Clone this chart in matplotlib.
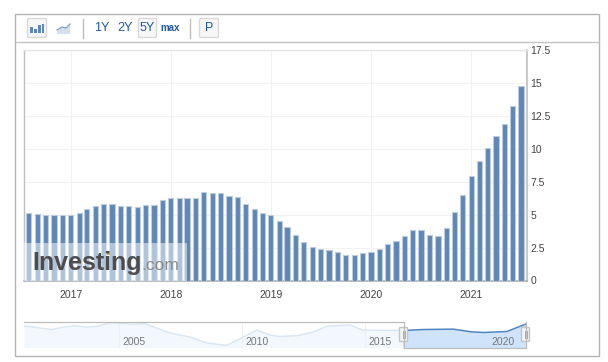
import matplotlib
matplotlib.use('Agg')
import matplotlib.pyplot as plt
from matplotlib.patches import Rectangle, FancyBboxPatch, Polygon
import pandas as pd

plt.rcParams['font.family'] = ['Liberation Sans', 'DejaVu Sans']

# monthly values, Aug 2016 to Jul 2021
bar_dates = pd.date_range('2016-08-01', periods=60, freq='MS')
bar_values = [5.14, 5.03, 4.96, 5.0, 4.95, 5.0, 5.14, 5.42, 5.64, 5.82, 5.82, 5.64,
              5.64, 5.56, 5.77, 5.77, 6.1, 6.23, 6.3, 6.23, 6.3, 6.71, 6.66, 6.66,
              6.45, 6.33, 5.82, 5.42, 5.14, 4.96, 4.53, 4.05, 3.44, 2.95, 2.55, 2.4,
              2.32, 2.15, 1.92, 1.92, 2.07, 2.15, 2.4, 2.75, 3.03, 3.4, 3.8, 3.8,
              3.47, 3.4, 4.0, 5.17, 6.47, 7.91, 9.08, 10.09, 11.0, 11.9, 13.24, 14.76]
y_ticks = [0, 2.5, 5, 7.5, 10, 12.5, 15, 17.5]
y_labels = ['0', '2.5', '5', '7.5', '10', '12.5', '15', '17.5']
year_ticks = ['2017', '2018', '2019', '2020', '2021']

# navigator series, whole history
nav_years = [2001.15, 2001.67, 2002.28, 2002.75, 2003.22, 2003.7, 2004.17, 2004.65,
             2005.18, 2005.6, 2006.07, 2006.55, 2007.1, 2007.96, 2008.57, 2009.38,
             2009.78, 2010.6, 2011.2, 2011.54, 2012.22, 2012.88, 2013.44, 2014.38,
             2014.9, 2016.33, 2016.55, 2017.36, 2018.57, 2019.3, 2019.79, 2020.74, 2021.5]
nav_values = [12.2, 9.6, 6.5, 10.2, 12.6, 10.2, 11.7, 17.3,
              15.7, 14.8, 15.7, 8.6, 0.9, -5.8, -14.5, -18.2,
              -10.5, 5.6, -2.8, -4.3, -3.2, 2.5, 11.7, 13.7,
              5.6, 5.0, 5.0, 6.5, 7.1, 2.9, 1.9, 3.4, 14.8]
nav_ticks = [2005, 2010, 2015, 2020]

W, H = 608, 362
fig = plt.figure(figsize=(W / 100, H / 100), dpi=100, facecolor='white')


def px_axes(x0, y0, x1, y1, **kw):
    return fig.add_axes([x0 / W, 1 - y1 / H, (x1 - x0) / W, (y1 - y0) / H], **kw)


# main chart
ax = px_axes(23.5, 50, 526.5, 280.5)
ax.bar(bar_dates, bar_values, width=19, color='#5f87b5', edgecolor='#bccbdf', linewidth=0.8, zorder=3)
ax.set_xlim(pd.Timestamp('2016-07-13'), pd.Timestamp('2021-07-21'))
ax.set_ylim(0, 17.5)
ax.yaxis.tick_right()
ax.set_yticks(y_ticks)
ax.set_yticklabels(y_labels)
ax.set_xticks([pd.Timestamp(y + '-01-01') for y in year_ticks])
ax.set_xticklabels(year_ticks)
ax.tick_params(axis='both', length=0, labelsize=7.5, labelcolor='#444444')
ax.tick_params(axis='x', pad=7)
ax.tick_params(axis='y', pad=3)
ax.grid(True, color='#f2f2f2', linewidth=0.8, zorder=0)
for name, spine in ax.spines.items():
    spine.set_color('#c0c0c0' if name in ('bottom', 'left', 'right') else '#e6e6e6')
    spine.set_linewidth(1.2 if name in ('bottom', 'right') else 1)
ax.spines['bottom'].set_color('#b0b0b0')

# navigator
nav = px_axes(24, 321.5, 526, 347.5)
nav.set_xlim(2001.156, 2021.52)
nav.set_ylim(-21.5, 19)
nav.patch.set_alpha(0)
nav.fill_between(nav_years, nav_values, -21.5, color='#f3f8fe', lw=0, zorder=1)
nav.plot(nav_years, nav_values, color='#d8e5f2', lw=1, zorder=2)
nav.axvspan(2016.55, 2021.52, color='#cfe3fb', lw=0, zorder=3)
clip = Rectangle((2016.55, -21.5), 4.97, 60, transform=nav.transData)
sel_fill = nav.fill_between(nav_years, nav_values, 19, color='white', lw=0, zorder=4)
sel_fill.set_clip_path(clip)
sel_line = nav.plot(nav_years, nav_values, color='#4f86c0', lw=1.1, zorder=5)[0]
sel_line.set_clip_path(clip)
nav.set_xticks(nav_ticks)
nav.set_xticklabels([])
nav.set_yticks([])
nav.tick_params(length=0)
nav.grid(True, axis='x', color='#f0f0f0', lw=0.7, zorder=0)
for s in nav.spines.values():
    s.set_visible(False)
for yr in nav_ticks:
    nav.annotate(str(yr), (yr, 0), xycoords=('data', 'axes fraction'), xytext=(2.4, 0.3),
                 textcoords='offset points', fontsize=7.5, color='#777777', ha='left', va='bottom',
                 zorder=6)

# frame, toolbar and watermark live on a pixel overlay
ov = fig.add_axes([0, 0, 1, 1], zorder=10)
ov.set_xlim(0, W)
ov.set_ylim(H, 0)
ov.axis('off')
ov.patch.set_alpha(0)

ov.add_patch(Rectangle((14.5, 13.5), 584.5, 342.5, fill=False, ec='#b4b4b4', lw=1))
ov.plot([14.5, 599], [41.5, 41.5], color='#c4c4c4', lw=1)

# navigator outline around the selection
ov.plot([24, 403.5, 403.5, 525.5, 525.5], [321.5, 321.5, 348, 348, 321.5], color='#bdbdbd', lw=0.9)

for cx in (403.5, 525.5):
    ov.add_patch(FancyBboxPatch((cx - 4, 327.5), 8, 14, boxstyle='round,pad=0,rounding_size=1',
                                fc='#f4f4f4', ec='#c4c4c4', lw=1))
    ov.plot([cx - 1, cx - 1], [331, 338], color='#aaaaaa', lw=0.7)
    ov.plot([cx + 1, cx + 1], [331, 338], color='#aaaaaa', lw=0.7)

# toolbar buttons
for x0, x1 in [(27.5, 46.5), (138.5, 156.5), (199.5, 218.5)]:
    ov.add_patch(FancyBboxPatch((x0, 18.5), x1 - x0, 19, boxstyle='round,pad=0,rounding_size=1.5',
                                fc='#f7f7f7', ec='#d8d8d8', lw=1))
for x in (82.5, 189.5):
    ov.plot([x, x], [18.5, 38], color='#bdbdbd', lw=1)

# bar icon
for x0, top in [(30, 27), (34, 29), (38, 25), (41.5, 24)]:
    ov.add_patch(Rectangle((x0, top), 2.8, 32.5 - top, fc='#5f87b5', lw=0))
# area icon
ov.add_patch(Polygon([(57, 30), (62, 27), (66, 28), (70, 24), (70, 34), (57, 34)], fc='#d5e0ec', lw=0))
ov.plot([57, 62, 66, 70], [30, 27, 28, 24], color='#7f9fc4', lw=0.9)

for label, cx, size in [('1Y', 102, 9), ('2Y', 124.5, 9), ('5Y', 147.5, 9), ('max', 170.5, 7), ('P', 209, 9)]:
    ov.text(cx, 28.3, label, ha='center', va='center', fontsize=size, color='#1f5a9e',
            fontweight='bold' if label == 'max' else 'normal')

# watermark
ov.add_patch(Rectangle((24, 242.5), 163, 38, fc='white', alpha=0.5, lw=0))
ov.text(32.5, 263, 'Investing', ha='left', va='center', fontsize=18, fontweight='bold', color='#4d4d4d')
ov.text(141, 265.5, '.com', ha='left', va='center', fontsize=12.5, color='#8a8a8a')
ov.add_patch(Rectangle((106.5, 251), 3.5, 3.5, fc='#f5a623', lw=0))

fig.savefig('out.png', dpi=100)
